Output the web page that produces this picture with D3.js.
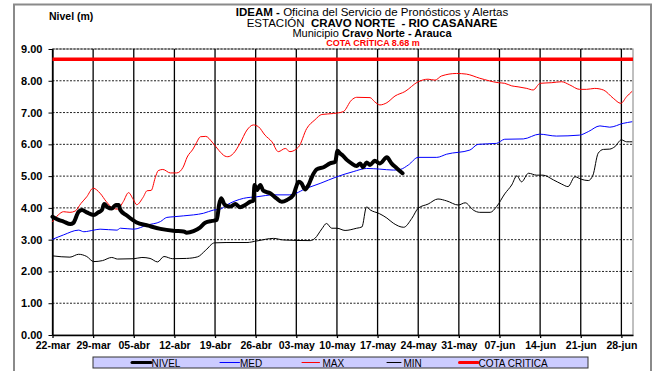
<!DOCTYPE html>
<html>
<head>
<meta charset="utf-8">
<script src="https://cdn.jsdelivr.net/npm/d3@7"></script>
<style>
  html, body { margin: 0; padding: 0; background: #fff; }
  svg { display: block; font-family: Arial, "Liberation Sans", sans-serif; }
</style>
</head>
<body>
<svg id="chart" width="655" height="371"></svg>
<script>
// Hidrograma estación Cravo Norte - Río Casanare
const fechaInicio = "2014-03-22";
const diasPeriodo = 100;
const mesesCortos = ["ene","feb","mar","abr","may","jun","jul","ago","sep","oct","nov","dic"];
const valoresEjeY = [0, 1, 2, 3, 4, 5, 6, 7, 8, 9];
const nombresSeries = ["NIVEL", "MED", "MAX", "MIN", "COTA CRITICA"];
const cotaCritica = 8.68;

// Nivel observado (días desde el inicio, metros)
const nivelDias = [0, 1.05, 1.9, 3.06, 3.6, 4.5, 5.1, 5.9, 7.1, 7.9, 8.5, 8.9, 9.5, 10.2, 10.9,
  11.4, 11.7, 12.8, 14.4, 16.5, 18.6, 20.8, 22.6, 23.1, 24.3, 25.4, 26.3, 27.5, 28.3, 28.7,
  29.05, 29.7, 30.6, 31.5, 32.3, 33.2, 34.0, 34.6, 34.8, 35.2, 35.8, 36.3, 37.5, 38.6, 39.5,
  40.4, 41.5, 42.4, 42.9, 43.5, 44.1, 44.7, 45.5, 46.7, 47.8, 48.7, 49.1, 49.5, 50.1, 50.7,
  51.5, 52.4, 53.0, 53.5, 54.1, 54.7, 55.5, 56.4, 57.6, 58.4, 59.3, 60.3];
const nivelValores = [3.72, 3.62, 3.57, 3.49, 3.53, 3.88, 3.93, 3.86, 3.78, 3.86, 3.93, 4.12, 4.02, 3.98, 4.09,
  4.09, 3.93, 3.76, 3.55, 3.44, 3.34, 3.28, 3.26, 3.22, 3.27, 3.38, 3.53, 3.59, 3.62, 4.10,
  4.30, 4.09, 4.04, 4.12, 4.02, 4.09, 4.19, 4.23, 4.72, 4.56, 4.72, 4.54, 4.46, 4.30, 4.19,
  4.25, 4.41, 4.82, 4.77, 4.58, 4.72, 4.98, 5.21, 5.28, 5.40, 5.45, 5.80, 5.72, 5.63, 5.51,
  5.40, 5.32, 5.40, 5.28, 5.43, 5.35, 5.48, 5.40, 5.59, 5.40, 5.25, 5.09];

// Nivel medio histórico
const medDias = [0, 1.9, 4.5, 5.4, 7.1, 8.2, 11.1, 11.7, 14, 16.3, 18.6, 19.7, 20.8, 22.6, 24.3,
  26, 27.7, 28.9, 30, 32.9, 35.2, 38.1, 40.9, 43.8, 46.1, 49, 51.8, 54.1, 56.4, 58.7,
  59.9, 61.3, 63, 66.2, 67.9, 71.9, 73.3, 76.5, 77.9, 81.1, 83.9, 86.8, 90.8, 92.3, 94.3,
  96, 98.3, 99.8];
const medValores = [3.01, 3.15, 3.30, 3.25, 3.30, 3.33, 3.30, 3.36, 3.33, 3.46, 3.57, 3.70, 3.72, 3.75, 3.78,
  3.83, 3.93, 3.96, 4.09, 4.30, 4.35, 4.41, 4.41, 4.62, 4.77, 4.98, 5.14, 5.24, 5.22, 5.19,
  5.21, 5.35, 5.59, 5.59, 5.69, 5.82, 6.00, 6.03, 6.16, 6.17, 6.32, 6.26, 6.29, 6.40, 6.58,
  6.54, 6.66, 6.71];

// Nivel máximo histórico
const maxDias = [0, 1, 1.9, 3, 3.9, 4.9, 5.9, 7.0, 8.2, 9.3, 10.4, 11.2, 12.2, 13.1, 13.9,
  14.5, 15.6, 16.3, 17.0, 17.7, 18.2, 19, 20.3, 21.4, 22.5, 23.2, 24.2, 24.8, 25.5, 26.4,
  27.5, 28.7, 29.7, 30.2, 31.2, 32.3, 33.5, 34.6, 35.5, 36.6, 37.8, 38.9, 40.1, 40.9, 42.4,
  43.8, 45.2, 46.4, 48.4, 50.1, 51.5, 52.4, 54.7, 55.5, 56.4, 57.6, 59.0, 60.7, 63.0, 64.7,
  65.9, 67, 69.6, 71.3, 73.6, 76.8, 77.9, 79.1, 80.2, 81.7, 82.8, 84, 86, 87.7, 89.1,
  90.8, 92, 93.4, 94.9, 96.6, 97.9, 98.9, 99.8];
const maxValores = [3.57, 3.78, 3.88, 3.86, 3.90, 4.14, 4.35, 4.62, 4.46, 4.19, 3.99, 3.96, 4.20, 4.48, 4.27,
  4.10, 4.33, 4.54, 4.55, 4.95, 5.17, 5.21, 5.10, 5.10, 5.28, 5.60, 5.85, 6.05, 6.24, 6.25,
  6.07, 5.80, 5.63, 5.61, 5.72, 6.03, 6.45, 6.61, 6.55, 6.29, 6.08, 5.77, 5.87, 5.77, 5.92,
  6.50, 6.77, 6.94, 6.97, 7.03, 7.39, 7.48, 7.47, 7.34, 7.24, 7.31, 7.52, 7.66, 7.97, 8.05,
  8.02, 8.15, 8.23, 8.21, 8.08, 7.94, 7.92, 7.84, 7.81, 7.76, 7.71, 7.92, 7.94, 7.97, 7.87,
  7.73, 7.73, 7.76, 7.71, 7.45, 7.29, 7.50, 7.66];

// Nivel mínimo histórico
const minDias = [0, 3, 4.5, 5.9, 7.1, 8.6, 10.2, 11.2, 14, 15.4, 16.8, 18.1, 19.2, 20.7, 23.1,
  25, 26.4, 27.9, 29.9, 33.5, 35.2, 38.1, 39.8, 44.4, 45.2, 46.4, 47.2, 48.1, 49, 50.4,
  52.4, 53.3, 54.1, 54.7, 56.3, 57.6, 58.7, 60.5, 61.9, 63, 64.7, 66.4, 67.9, 69.9, 71.1,
  72.5, 73.6, 75.4, 76.5, 77.9, 79.1, 80, 80.8, 82, 83.4, 84.5, 86.3, 87.7, 88.8, 90,
  91.1, 92.3, 93.1, 94, 94.9, 96, 96.9, 98, 98.9, 99.8];
const minValores = [2.49, 2.45, 2.54, 2.47, 2.31, 2.34, 2.44, 2.39, 2.40, 2.44, 2.41, 2.30, 2.47, 2.40, 2.41,
  2.46, 2.67, 2.90, 2.91, 2.91, 2.96, 3.04, 2.99, 2.97, 3.04, 3.34, 3.51, 3.36, 3.36, 3.29,
  3.36, 3.40, 4.03, 3.94, 3.82, 3.68, 3.52, 3.39, 3.67, 3.99, 4.12, 4.28, 4.22, 4.09, 4.16,
  3.93, 3.86, 3.86, 4.04, 4.44, 4.72, 5.01, 4.82, 5.09, 5.03, 5.03, 4.88, 4.75, 4.67, 4.98,
  4.90, 4.86, 5.03, 5.72, 5.84, 5.85, 5.93, 6.14, 6.08, 6.08];

const svg = d3.select("#chart");

// Marco exterior
svg.append("rect")
  .attr("x", 14).attr("y", 4.5).attr("width", 637).attr("height", 390)
  .attr("fill", "#fff").attr("stroke", "#8a8a8a").attr("stroke-width", 2);

const inicio = d3.timeParse("%Y-%m-%d")(fechaInicio);
const fin = d3.timeDay.offset(inicio, diasPeriodo);
const aFecha = d => d3.timeMinute.offset(inicio, Math.round(d * 1440));

const plot = { left: 52.5, right: 633, top: 49, bottom: 335 };
const x = d3.scaleTime().domain([inicio, fin]).range([plot.left, plot.right]);
const y = d3.scaleLinear().domain([0, 9]).range([plot.bottom, plot.top]);

const locale = d3.timeFormatLocale({
  dateTime: "%x, %X", date: "%d/%m/%Y", time: "%H:%M:%S", periods: ["AM", "PM"],
  days: ["domingo","lunes","martes","miércoles","jueves","viernes","sábado"],
  shortDays: ["dom","lun","mar","mié","jue","vie","sáb"],
  months: ["enero","febrero","marzo","abril","mayo","junio","julio","agosto","septiembre","octubre","noviembre","diciembre"],
  shortMonths: mesesCortos
});
const fmtFecha = locale.format("%d-%b");
const semanas = d3.timeDay.range(inicio, fin, 7);

// Área de trazado
svg.append("rect")
  .attr("x", plot.left).attr("y", plot.top)
  .attr("width", plot.right - plot.left).attr("height", plot.bottom - plot.top)
  .attr("fill", "#fff").attr("stroke", "#808080").attr("stroke-width", 1);

// Líneas de cuadrícula horizontales (punteadas)
svg.append("g").selectAll("line")
  .data(valoresEjeY.filter(v => v > 0))
  .join("line")
  .attr("x1", plot.left).attr("x2", plot.right)
  .attr("y1", d => y(d)).attr("y2", d => y(d))
  .attr("stroke", "#222").attr("stroke-width", 1).attr("stroke-dasharray", "2,1.5");

// Líneas de cuadrícula verticales
svg.append("g").selectAll("line")
  .data(semanas)
  .join("line")
  .attr("x1", d => x(d)).attr("x2", d => x(d))
  .attr("y1", plot.top).attr("y2", plot.bottom)
  .attr("stroke", "#000").attr("stroke-width", 1.3);

// Ejes
const ejeX = svg.append("g")
  .attr("transform", `translate(0,${plot.bottom})`)
  .call(d3.axisBottom(x).tickValues(semanas).tickFormat(fmtFecha).tickSizeInner(3).tickSizeOuter(0).tickPadding(4));
ejeX.select(".domain").attr("stroke", "#000").attr("stroke-width", 1.3);
ejeX.selectAll(".tick line").attr("stroke", "#000").attr("stroke-width", 1.3);
ejeX.selectAll("text").attr("font-size", "10.5px").attr("font-weight", "bold").attr("fill", "#000")
  .attr("font-family", "Arial, 'Liberation Sans', sans-serif");

const ejeY = svg.append("g")
  .attr("transform", `translate(${plot.left},0)`)
  .call(d3.axisLeft(y).tickValues(valoresEjeY).tickFormat(d3.format(".2f")).tickSizeInner(4).tickSizeOuter(0).tickPadding(6));
ejeY.select(".domain").attr("stroke", "#000").attr("stroke-width", 1.3);
ejeY.selectAll(".tick line").attr("stroke", "#000").attr("stroke-width", 1);
ejeY.selectAll("text").attr("font-size", "11px").attr("font-weight", "bold").attr("fill", "#000")
  .attr("font-family", "Arial, 'Liberation Sans', sans-serif");

// Series
const linea = d3.line().curve(d3.curveMonotoneX).x(p => x(aFecha(p[0]))).y(p => y(p[1]));
const pares = (dias, vals) => dias.map((d, i) => [d, vals[i]]);

const series = [
  { datos: pares(minDias, minValores), color: "#000", ancho: 1 },
  { datos: pares(maxDias, maxValores), color: "#ff0000", ancho: 1 },
  { datos: pares(medDias, medValores), color: "#0000ff", ancho: 1 },
  { datos: pares(nivelDias, nivelValores), color: "#000", ancho: 4 }
];
svg.append("g").selectAll("path")
  .data(series)
  .join("path")
  .attr("d", s => linea(s.datos))
  .attr("fill", "none")
  .attr("stroke", s => s.color)
  .attr("stroke-width", s => s.ancho)
  .attr("stroke-linejoin", "round")
  .attr("stroke-linecap", "round");

// Cota crítica
svg.append("line")
  .attr("x1", x(inicio)).attr("x2", x(fin))
  .attr("y1", y(cotaCritica)).attr("y2", y(cotaCritica))
  .attr("stroke", "#ff0000").attr("stroke-width", 3.5);

// Títulos
const titulo = svg.append("g").attr("text-anchor", "middle").attr("fill", "#000");
const t1 = titulo.append("text").attr("x", 372).attr("y", 15.5).attr("font-size", "11.5px");
t1.append("tspan").attr("font-weight", "bold").text("IDEAM - ");
t1.append("tspan").text("Oficina del Servicio de Pronósticos y Alertas");
const t2 = titulo.append("text").attr("x", 372).attr("y", 26.5).attr("font-size", "11.5px").attr("xml:space", "preserve");
t2.append("tspan").text("ESTACIÓN ");
t2.append("tspan").attr("font-weight", "bold").text(" CRAVO NORTE  - RIO CASANARE");
const t3 = titulo.append("text").attr("x", 372).attr("y", 37).attr("font-size", "11px");
t3.append("tspan").text("Municipio ");
t3.append("tspan").attr("font-weight", "bold").text("Cravo Norte - Arauca");
titulo.append("text").attr("x", 373).attr("y", 46).attr("font-size", "9px")
  .attr("font-weight", "bold").attr("fill", "#ff0000").text("COTA CRÍTICA  " + cotaCritica.toFixed(2) + " m");

svg.append("text").attr("x", 49).attr("y", 19.5).attr("font-size", "10.5px")
  .attr("font-weight", "bold").attr("fill", "#000").text("Nivel (m)");

// Leyenda
const leyenda = svg.append("g");
leyenda.append("rect").attr("x", 93).attr("y", 357).attr("width", 495).attr("height", 11)
  .attr("fill", "#ccccff").attr("stroke", "#333").attr("stroke-width", 1);
const itemsLeyenda = [
  { nombre: nombresSeries[0], x1: 132, x2: 151, texto: 151.5, color: "#000", ancho: 3 },
  { nombre: nombresSeries[1], x1: 220, x2: 239.5, texto: 240, color: "#0000ff", ancho: 1 },
  { nombre: nombresSeries[2], x1: 302, x2: 319.5, texto: 322.5, color: "#ff0000", ancho: 1 },
  { nombre: nombresSeries[3], x1: 387, x2: 401, texto: 403.5, color: "#000", ancho: 1 },
  { nombre: nombresSeries[4], x1: 459.5, x2: 478, texto: 478.5, color: "#ff0000", ancho: 3 }
];
const it = leyenda.selectAll("g.item").data(itemsLeyenda).join("g").attr("class", "item");
it.append("line").attr("x1", d => d.x1).attr("x2", d => d.x2).attr("y1", 362.5).attr("y2", 362.5)
  .attr("stroke", d => d.color).attr("stroke-width", d => d.ancho).attr("stroke-linecap", "round");
it.append("text").attr("x", d => d.texto).attr("y", 366.5).attr("font-size", "10px")
  .attr("fill", "#000").text(d => d.nombre);
</script>
</body>
</html>
